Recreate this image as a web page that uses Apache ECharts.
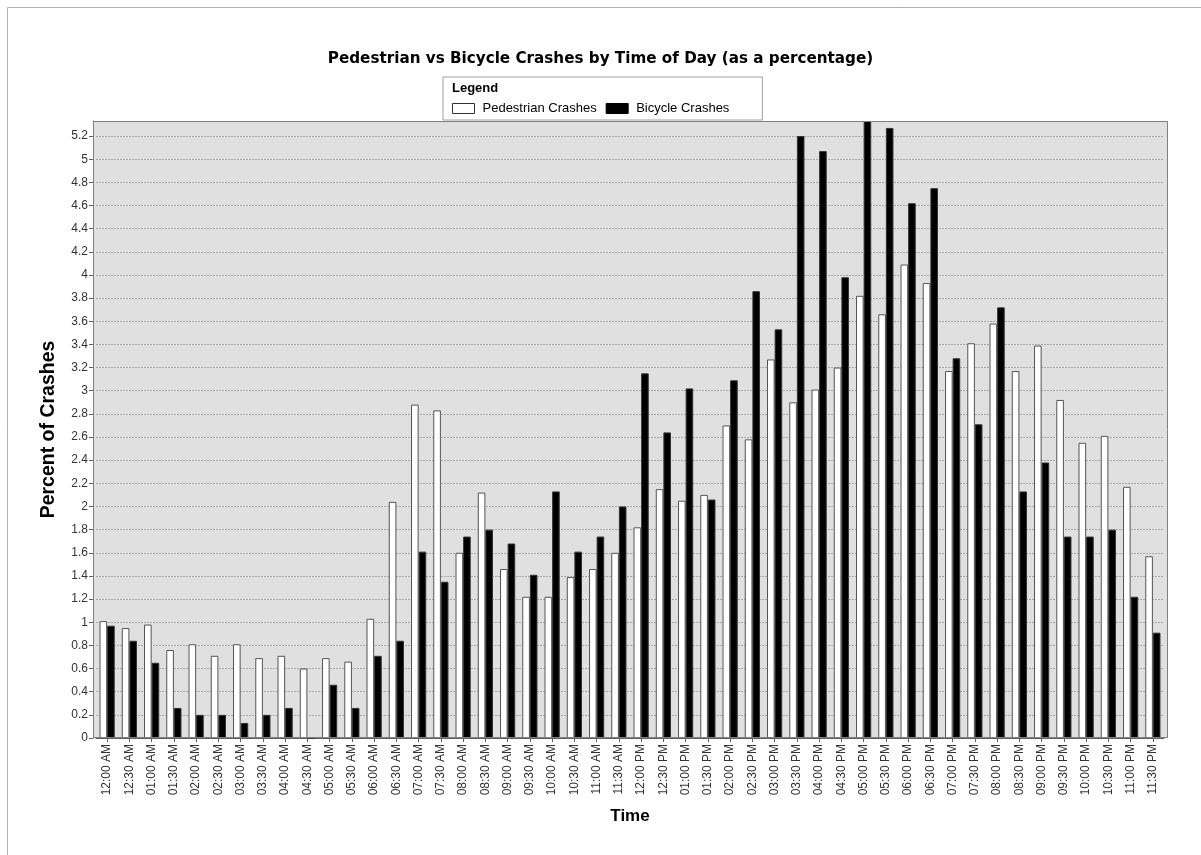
<!DOCTYPE html>
<html>
<head>
<meta charset="utf-8">
<script src="https://cdn.jsdelivr.net/npm/echarts@6/dist/echarts.min.js"></script>
<style>html,body{margin:0;padding:0;background:#fff}#c{width:1201px;height:855px}</style>
</head>
<body>
<div id="c"></div>
<script>
const categories = ['12:00 AM','12:30 AM','01:00 AM','01:30 AM','02:00 AM','02:30 AM','03:00 AM','03:30 AM','04:00 AM','04:30 AM','05:00 AM','05:30 AM',
  '06:00 AM','06:30 AM','07:00 AM','07:30 AM','08:00 AM','08:30 AM','09:00 AM','09:30 AM','10:00 AM','10:30 AM','11:00 AM','11:30 AM',
  '12:00 PM','12:30 PM','01:00 PM','01:30 PM','02:00 PM','02:30 PM','03:00 PM','03:30 PM','04:00 PM','04:30 PM','05:00 PM','05:30 PM',
  '06:00 PM','06:30 PM','07:00 PM','07:30 PM','08:00 PM','08:30 PM','09:00 PM','09:30 PM','10:00 PM','10:30 PM','11:00 PM','11:30 PM'];
const pedestrian = [1.01,0.95,0.98,0.76,0.81,0.71,0.81,0.69,0.71,0.60,0.69,0.66,
  1.03,2.04,2.88,2.83,1.60,2.12,1.46,1.22,1.22,1.39,1.46,1.60,
  1.82,2.15,2.05,2.10,2.70,2.58,3.27,2.90,3.01,3.20,3.82,3.66,
  4.09,3.93,3.17,3.41,3.58,3.17,3.39,2.92,2.55,2.61,2.17,1.57];
const bicycle = [0.97,0.84,0.65,0.26,0.20,0.20,0.13,0.20,0.26,0,0.46,0.26,
  0.71,0.84,1.61,1.35,1.74,1.80,1.68,1.41,2.13,1.61,1.74,2.00,
  3.15,2.64,3.02,2.06,3.09,3.86,3.53,5.20,5.07,3.98,5.33,5.27,
  4.62,4.75,3.28,2.71,3.72,2.13,2.38,1.74,1.74,1.80,1.22,0.91];
const yMin = 0, yMax = 5.33, yStep = 0.2;

const FONT = "'Liberation Sans', Arial, sans-serif";
const chart = echarts.init(document.getElementById('c'));
chart.setOption({
  animation: false,
  backgroundColor: '#fff',
  textStyle: {fontFamily: FONT},
  title: {
    text: 'Pedestrian vs Bicycle Crashes by Time of Day (as a percentage)',
    left: 'center', top: 47,
    textStyle: {fontSize: 15.2, fontWeight: 'bold', color: '#000', fontFamily: "'DejaVu Sans', Verdana, sans-serif"}
  },
  graphic: [
    {type: 'rect', z: -10, silent: true, shape: {x: 7.5, y: 7.5, width: 1200, height: 860}, style: {fill: '#fff', stroke: '#b0b0b0', lineWidth: 1}},
    {type: 'rect', z: -5, silent: true, shape: {x: 93, y: 121, width: 1075, height: 617}, style: {fill: '#e0e0e0', stroke: null}},
    {type: 'rect', z: 100, silent: true, shape: {x: 93.5, y: 121.5, width: 1074, height: 616}, style: {fill: 'none', stroke: '#808080', lineWidth: 1}},
    {type: 'text', z: 101, left: 452, top: 82, style: {text: 'Legend', font: "bold 13px 'Liberation Sans', Arial", fill: '#000'}}
  ],
  legend: {
    left: 443, top: 77,
    padding: [25, 33, 5, 9],
    backgroundColor: '#fff', borderColor: '#a0a0a0', borderWidth: 1, borderRadius: 0,
    itemWidth: 22, itemHeight: 10, itemGap: 9,
    textStyle: {fontSize: 13, color: '#000', fontFamily: FONT, padding: [0, 0, 0, 3]},
    data: [
      {name: 'Pedestrian Crashes', icon: 'rect', itemStyle: {color: '#fff', borderColor: '#333', borderWidth: 1}},
      {name: 'Bicycle Crashes', icon: 'rect', itemStyle: {color: '#000', borderColor: '#000', borderWidth: 1}}
    ]
  },
  grid: {left: 96, right: 37, top: 121, bottom: 117, containLabel: false},
  xAxis: {
    type: 'category', data: categories, boundaryGap: true,
    name: 'Time', nameLocation: 'middle', nameGap: 70,
    nameTextStyle: {fontSize: 17, fontWeight: 'bold', color: '#000', fontFamily: FONT},
    axisLine: {show: true, lineStyle: {color: '#606060', width: 1}},
    axisTick: {show: true, alignWithLabel: true, length: 4, lineStyle: {color: '#606060'}},
    axisLabel: {rotate: 90, interval: 0, fontSize: 12, color: '#333', margin: 6, fontFamily: FONT},
    splitLine: {show: false}
  },
  yAxis: {
    type: 'value', min: yMin, max: yMax, interval: yStep, offset: 3,
    name: 'Percent of Crashes', nameLocation: 'middle', nameGap: 34,
    nameTextStyle: {fontSize: 19.5, fontWeight: 'bold', color: '#000', fontFamily: FONT},
    axisLine: {show: true, lineStyle: {color: '#606060', width: 1}},
    axisTick: {show: true, length: 4, lineStyle: {color: '#606060'}},
    axisLabel: {fontSize: 12, color: '#333', margin: 5, showMaxLabel: false, fontFamily: FONT,
      formatter: v => String(+v.toFixed(1))},
    splitLine: {show: true, lineStyle: {color: '#a8a8a8', type: [2, 1], width: 1}}
  },
  series: [
    {name: 'Pedestrian Crashes', type: 'bar', data: pedestrian, barWidth: 7.6, barGap: '0%',
      itemStyle: {color: '#fff', borderColor: '#555', borderWidth: 1}},
    {name: 'Bicycle Crashes', type: 'bar', data: bicycle, barWidth: 7.6, barGap: '0%',
      itemStyle: {color: '#000', borderColor: '#333', borderWidth: 1}}
  ]
});
</script>
</body>
</html>
